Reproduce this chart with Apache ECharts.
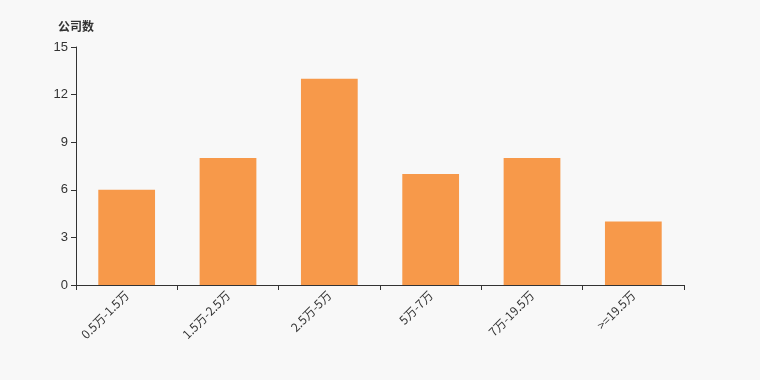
<!DOCTYPE html>
<html><head><meta charset="utf-8">
<script src="https://cdn.jsdelivr.net/npm/echarts@6/dist/echarts.min.js"></script>
<style>html,body{margin:0;padding:0;background:#f8f8f8;}#c{width:760px;height:380px;}</style>
</head><body><div id="c"></div>
<script>
const categories = ['0.5万-1.5万','1.5万-2.5万','2.5万-5万','5万-7万','7万-19.5万','>=19.5万'];
const values = [6, 8, 13, 7, 8, 4];
const yTicks = {min: 0, max: 15, interval: 3};
const chart = echarts.init(document.getElementById('c'));
chart.setOption({
  backgroundColor: '#f8f8f8',
  animation: false,
  grid: {left: 76, right: 76, top: 47, bottom: 95},
  xAxis: {
    type: 'category', data: categories,
    axisLine: {lineStyle: {color: '#333'}},
    axisTick: {show: true, alignWithLabel: false, lineStyle: {color: '#333'}},
    axisLabel: {rotate: 45, color: '#333', fontSize: 12, interval: 0, fontFamily: 'Noto Sans CJK SC', margin: 8}
  },
  yAxis: {
    type: 'value', min: yTicks.min, max: yTicks.max, interval: yTicks.interval,
    name: '公司数', nameLocation: 'end', nameGap: 15,
    nameTextStyle: {color: '#333', fontWeight: 'bold', fontSize: 12, fontFamily: 'Noto Sans CJK SC', align: 'right', padding: [0, -18, 0, 0]},
    axisLine: {show: true, lineStyle: {color: '#333'}},
    axisTick: {show: true, lineStyle: {color: '#333'}},
    splitLine: {show: false},
    axisLabel: {color: '#333', fontSize: 13, fontFamily: 'Liberation Sans'}
  },
  series: [{
    type: 'bar', data: values, barWidth: '56%',
    itemStyle: {color: '#f7994a'}
  }]
});
</script></body></html>
